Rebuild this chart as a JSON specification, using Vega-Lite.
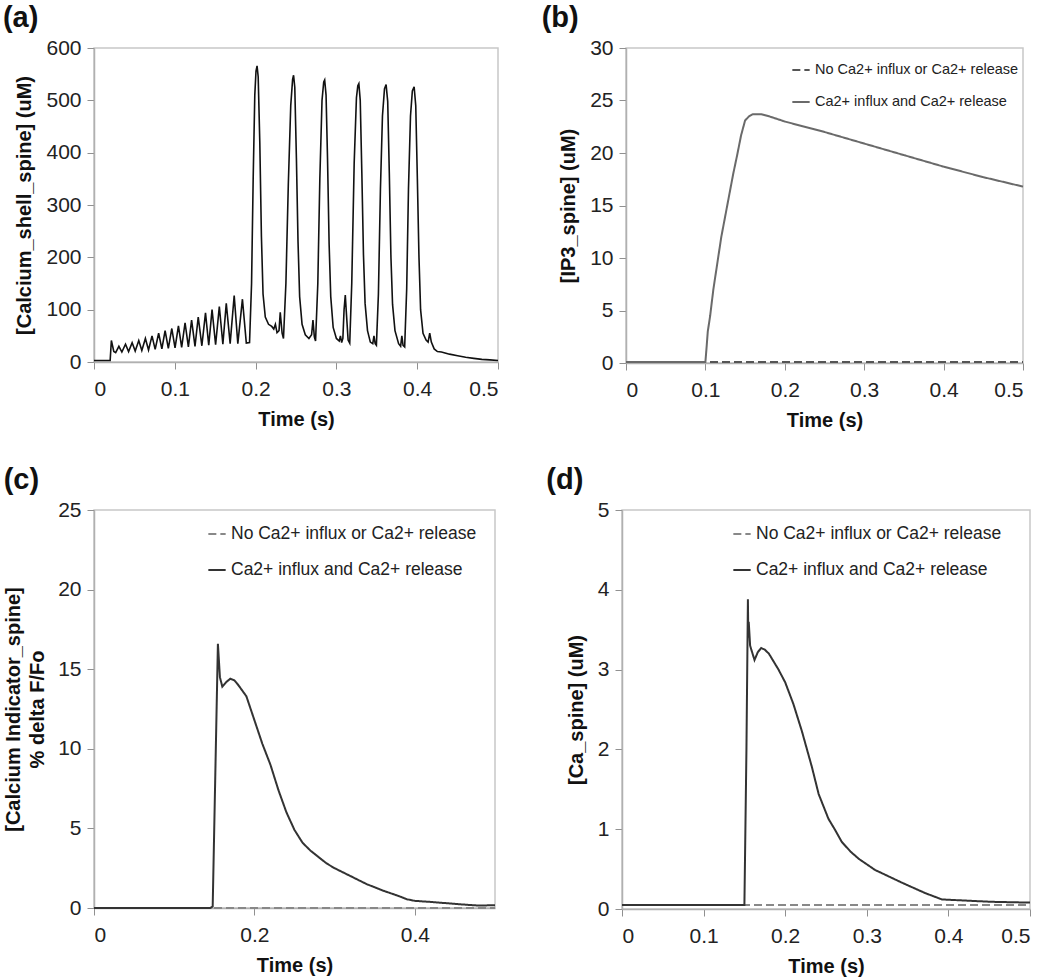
{
  "$schema": "https://vega.github.io/schema/vega-lite/v6.json",
  "background": "white",
  "padding": {"left": 2, "top": 3, "right": 2, "bottom": 0},
  "config": {
    "font": "Liberation Sans",
    "view": {"stroke": "#c8c8c8", "strokeWidth": 1.5},
    "axis": {"grid": false, "domainColor": "#b0b0b0", "domainWidth": 1.5, "tickColor": "#909090", "tickSize": 7, "labelFontSize": 21, "labelColor": "#222", "labelFont": "Liberation Sans", "titleFontSize": 20, "titleFontWeight": "bold", "titleColor": "#111"},
    "axisX": {"labelPadding": 9, "titlePadding": 10},
    "axisY": {"labelPadding": 6, "titlePadding": 11, "titleLineHeight": 24},
    "title": {"anchor": "start", "frame": "bounds", "fontSize": 29, "fontWeight": "bold", "color": "#111", "font": "Liberation Sans", "offset": 4},
    "legend": {"orient": "none", "title": null, "padding": 0, "symbolType": "stroke", "symbolSize": 300, "symbolStrokeWidth": 2, "labelFont": "Liberation Sans", "labelColor": "#222", "labelOffset": 4, "labelLimit": 400}
  },
  "datasets": {
    "a": [
      {"t":0,"v":3},{"t":0.02,"v":3},{"t":0.0215,"v":41},{"t":0.0245,"v":20},{"t":0.0268,"v":18},{"t":0.0308,"v":30},{"t":0.0345,"v":19},{"t":0.039,"v":34},{"t":0.0428,"v":20},{"t":0.0472,"v":37},{"t":0.051,"v":21},{"t":0.0554,"v":41},{"t":0.0592,"v":22},{"t":0.0636,"v":45},{"t":0.0675,"v":23},{"t":0.0718,"v":50},{"t":0.0757,"v":24},{"t":0.080,"v":55},{"t":0.084,"v":25},{"t":0.088,"v":60},{"t":0.092,"v":26},{"t":0.0963,"v":64},{"t":0.1003,"v":27},{"t":0.1045,"v":69},{"t":0.1085,"v":28},{"t":0.1127,"v":75},{"t":0.1168,"v":29},{"t":0.1208,"v":80},{"t":0.125,"v":30},{"t":0.129,"v":86},{"t":0.1335,"v":31},{"t":0.138,"v":94},{"t":0.142,"v":32},{"t":0.1461,"v":100},{"t":0.1505,"v":33},{"t":0.1551,"v":106},{"t":0.1595,"v":34},{"t":0.1637,"v":112},{"t":0.1685,"v":35},{"t":0.1735,"v":127},{"t":0.178,"v":35},{"t":0.1837,"v":120},{"t":0.1885,"v":36},{"t":0.1925,"v":37},
      {"t":0.195,"v":150},{"t":0.197,"v":350},{"t":0.199,"v":510},{"t":0.2005,"v":556},{"t":0.2018,"v":566},{"t":0.2032,"v":545},{"t":0.2052,"v":420},{"t":0.2072,"v":240},{"t":0.2092,"v":130},{"t":0.212,"v":86},{"t":0.216,"v":72},{"t":0.22,"v":68},{"t":0.2225,"v":63},{"t":0.2245,"v":72},{"t":0.2265,"v":56},{"t":0.229,"v":60},{"t":0.2305,"v":95},{"t":0.2328,"v":55},{"t":0.2345,"v":45},
      {"t":0.2375,"v":150},{"t":0.2405,"v":340},{"t":0.2435,"v":490},{"t":0.2458,"v":540},{"t":0.247,"v":548},{"t":0.2485,"v":525},{"t":0.2505,"v":390},{"t":0.2525,"v":230},{"t":0.2545,"v":125},{"t":0.2575,"v":72},{"t":0.2615,"v":52},{"t":0.266,"v":45},{"t":0.2693,"v":52},{"t":0.271,"v":80},{"t":0.2727,"v":48},{"t":0.2742,"v":40},
      {"t":0.277,"v":150},{"t":0.2795,"v":350},{"t":0.2822,"v":500},{"t":0.2843,"v":535},{"t":0.2855,"v":539},{"t":0.2872,"v":510},{"t":0.289,"v":390},{"t":0.291,"v":225},{"t":0.293,"v":125},{"t":0.296,"v":66},{"t":0.300,"v":45},{"t":0.3035,"v":40},{"t":0.305,"v":50},{"t":0.3065,"v":37},{"t":0.308,"v":45},{"t":0.3095,"v":100},{"t":0.311,"v":128},{"t":0.3125,"v":90},{"t":0.3145,"v":42},{"t":0.3165,"v":36},
      {"t":0.319,"v":150},{"t":0.322,"v":380},{"t":0.3248,"v":505},{"t":0.3265,"v":528},{"t":0.3278,"v":532},{"t":0.3295,"v":500},{"t":0.3315,"v":360},{"t":0.3335,"v":205},{"t":0.3355,"v":112},{"t":0.3385,"v":60},{"t":0.342,"v":38},{"t":0.345,"v":35},{"t":0.3465,"v":50},{"t":0.348,"v":35},{"t":0.3495,"v":32},
      {"t":0.352,"v":130},{"t":0.3545,"v":330},{"t":0.357,"v":470},{"t":0.3595,"v":522},{"t":0.3615,"v":530},{"t":0.3635,"v":498},{"t":0.3655,"v":360},{"t":0.3675,"v":200},{"t":0.3695,"v":110},{"t":0.3725,"v":60},{"t":0.377,"v":35},{"t":0.3795,"v":30},{"t":0.381,"v":50},{"t":0.3825,"v":32},{"t":0.3845,"v":29},
      {"t":0.387,"v":140},{"t":0.3892,"v":330},{"t":0.3917,"v":470},{"t":0.394,"v":518},{"t":0.3962,"v":526},{"t":0.3982,"v":490},{"t":0.4002,"v":350},{"t":0.4022,"v":200},{"t":0.4042,"v":100},{"t":0.4072,"v":55},{"t":0.411,"v":42},{"t":0.4135,"v":38},{"t":0.4155,"v":55},{"t":0.4175,"v":38},{"t":0.421,"v":25},{"t":0.425,"v":20},{"t":0.43,"v":19},{"t":0.44,"v":15},{"t":0.45,"v":12},{"t":0.46,"v":9},{"t":0.47,"v":7},{"t":0.48,"v":5},{"t":0.49,"v":4},{"t":0.5,"v":3}
    ],
    "b": [
      {"s":"No Ca2+ influx or Ca2+ release","t":0,"v":0.1},{"s":"No Ca2+ influx or Ca2+ release","t":0.5,"v":0.1},
      {"s":"Ca2+ influx and Ca2+ release","t":0,"v":0.1},{"s":"Ca2+ influx and Ca2+ release","t":0.1,"v":0.1},{"s":"Ca2+ influx and Ca2+ release","t":0.1015,"v":1.5},{"s":"Ca2+ influx and Ca2+ release","t":0.103,"v":3},{"s":"Ca2+ influx and Ca2+ release","t":0.106,"v":4.5},{"s":"Ca2+ influx and Ca2+ release","t":0.11,"v":7},{"s":"Ca2+ influx and Ca2+ release","t":0.115,"v":9.5},{"s":"Ca2+ influx and Ca2+ release","t":0.12,"v":12},{"s":"Ca2+ influx and Ca2+ release","t":0.125,"v":14},{"s":"Ca2+ influx and Ca2+ release","t":0.13,"v":16},{"s":"Ca2+ influx and Ca2+ release","t":0.135,"v":18},{"s":"Ca2+ influx and Ca2+ release","t":0.14,"v":19.8},{"s":"Ca2+ influx and Ca2+ release","t":0.145,"v":21.7},{"s":"Ca2+ influx and Ca2+ release","t":0.15,"v":23.1},{"s":"Ca2+ influx and Ca2+ release","t":0.155,"v":23.5},{"s":"Ca2+ influx and Ca2+ release","t":0.16,"v":23.7},{"s":"Ca2+ influx and Ca2+ release","t":0.17,"v":23.7},{"s":"Ca2+ influx and Ca2+ release","t":0.18,"v":23.5},{"s":"Ca2+ influx and Ca2+ release","t":0.2,"v":23.0},{"s":"Ca2+ influx and Ca2+ release","t":0.25,"v":22.0},{"s":"Ca2+ influx and Ca2+ release","t":0.3,"v":20.9},{"s":"Ca2+ influx and Ca2+ release","t":0.35,"v":19.8},{"s":"Ca2+ influx and Ca2+ release","t":0.4,"v":18.7},{"s":"Ca2+ influx and Ca2+ release","t":0.45,"v":17.7},{"s":"Ca2+ influx and Ca2+ release","t":0.5,"v":16.8}
    ],
    "c": [
      {"s":"No Ca2+ influx or Ca2+ release","t":0,"v":0},{"s":"No Ca2+ influx or Ca2+ release","t":0.5,"v":0},
      {"s":"Ca2+ influx and Ca2+ release","t":0,"v":0},{"s":"Ca2+ influx and Ca2+ release","t":0.145,"v":0},{"s":"Ca2+ influx and Ca2+ release","t":0.148,"v":0.1},{"s":"Ca2+ influx and Ca2+ release","t":0.1515,"v":9},{"s":"Ca2+ influx and Ca2+ release","t":0.1545,"v":16.6},{"s":"Ca2+ influx and Ca2+ release","t":0.157,"v":14.5},{"s":"Ca2+ influx and Ca2+ release","t":0.16,"v":13.9},{"s":"Ca2+ influx and Ca2+ release","t":0.165,"v":14.2},{"s":"Ca2+ influx and Ca2+ release","t":0.17,"v":14.4},{"s":"Ca2+ influx and Ca2+ release","t":0.175,"v":14.3},{"s":"Ca2+ influx and Ca2+ release","t":0.18,"v":14.0},{"s":"Ca2+ influx and Ca2+ release","t":0.19,"v":13.3},{"s":"Ca2+ influx and Ca2+ release","t":0.2,"v":11.8},{"s":"Ca2+ influx and Ca2+ release","t":0.21,"v":10.3},{"s":"Ca2+ influx and Ca2+ release","t":0.22,"v":9.0},{"s":"Ca2+ influx and Ca2+ release","t":0.23,"v":7.4},{"s":"Ca2+ influx and Ca2+ release","t":0.24,"v":6.0},{"s":"Ca2+ influx and Ca2+ release","t":0.25,"v":4.9},{"s":"Ca2+ influx and Ca2+ release","t":0.26,"v":4.1},{"s":"Ca2+ influx and Ca2+ release","t":0.27,"v":3.6},{"s":"Ca2+ influx and Ca2+ release","t":0.28,"v":3.2},{"s":"Ca2+ influx and Ca2+ release","t":0.29,"v":2.8},{"s":"Ca2+ influx and Ca2+ release","t":0.3,"v":2.5},{"s":"Ca2+ influx and Ca2+ release","t":0.32,"v":2.0},{"s":"Ca2+ influx and Ca2+ release","t":0.34,"v":1.5},{"s":"Ca2+ influx and Ca2+ release","t":0.36,"v":1.1},{"s":"Ca2+ influx and Ca2+ release","t":0.38,"v":0.75},{"s":"Ca2+ influx and Ca2+ release","t":0.39,"v":0.55},{"s":"Ca2+ influx and Ca2+ release","t":0.4,"v":0.45},{"s":"Ca2+ influx and Ca2+ release","t":0.42,"v":0.38},{"s":"Ca2+ influx and Ca2+ release","t":0.44,"v":0.3},{"s":"Ca2+ influx and Ca2+ release","t":0.46,"v":0.22},{"s":"Ca2+ influx and Ca2+ release","t":0.48,"v":0.15},{"s":"Ca2+ influx and Ca2+ release","t":0.5,"v":0.18}
    ],
    "d": [
      {"s":"No Ca2+ influx or Ca2+ release","t":0,"v":0.05},{"s":"No Ca2+ influx or Ca2+ release","t":0.5,"v":0.05},
      {"s":"Ca2+ influx and Ca2+ release","t":0,"v":0.05},{"s":"Ca2+ influx and Ca2+ release","t":0.15,"v":0.05},{"s":"Ca2+ influx and Ca2+ release","t":0.1525,"v":2.0},{"s":"Ca2+ influx and Ca2+ release","t":0.1543,"v":3.88},{"s":"Ca2+ influx and Ca2+ release","t":0.1548,"v":3.4},{"s":"Ca2+ influx and Ca2+ release","t":0.1553,"v":3.6},{"s":"Ca2+ influx and Ca2+ release","t":0.157,"v":3.3},{"s":"Ca2+ influx and Ca2+ release","t":0.1624,"v":3.12},{"s":"Ca2+ influx and Ca2+ release","t":0.1665,"v":3.22},{"s":"Ca2+ influx and Ca2+ release","t":0.1706,"v":3.27},{"s":"Ca2+ influx and Ca2+ release","t":0.175,"v":3.25},{"s":"Ca2+ influx and Ca2+ release","t":0.18,"v":3.2},{"s":"Ca2+ influx and Ca2+ release","t":0.1918,"v":3.0},{"s":"Ca2+ influx and Ca2+ release","t":0.2,"v":2.84},{"s":"Ca2+ influx and Ca2+ release","t":0.21,"v":2.57},{"s":"Ca2+ influx and Ca2+ release","t":0.2204,"v":2.23},{"s":"Ca2+ influx and Ca2+ release","t":0.2327,"v":1.78},{"s":"Ca2+ influx and Ca2+ release","t":0.241,"v":1.44},{"s":"Ca2+ influx and Ca2+ release","t":0.253,"v":1.13},{"s":"Ca2+ influx and Ca2+ release","t":0.2612,"v":0.99},{"s":"Ca2+ influx and Ca2+ release","t":0.2694,"v":0.84},{"s":"Ca2+ influx and Ca2+ release","t":0.28,"v":0.72},{"s":"Ca2+ influx and Ca2+ release","t":0.29,"v":0.63},{"s":"Ca2+ influx and Ca2+ release","t":0.31,"v":0.49},{"s":"Ca2+ influx and Ca2+ release","t":0.343,"v":0.33},{"s":"Ca2+ influx and Ca2+ release","t":0.3714,"v":0.2},{"s":"Ca2+ influx and Ca2+ release","t":0.392,"v":0.12},{"s":"Ca2+ influx and Ca2+ release","t":0.412,"v":0.11},{"s":"Ca2+ influx and Ca2+ release","t":0.453,"v":0.09},{"s":"Ca2+ influx and Ca2+ release","t":0.5,"v":0.08}
    ]
  },
  "spacing": 34,
  "vconcat": [
    {
      "spacing": 38,
      "resolve": {"scale": {"x": "independent", "y": "independent", "color": "independent", "strokeDash": "independent"}, "legend": {"color": "independent", "strokeDash": "independent"}},
      "hconcat": [
        {
          "title": {"text": "(a)", "dx": -12},
          "width": 404, "height": 314,
          "data": {"name": "a"},
          "mark": {"type": "line", "color": "#111", "strokeWidth": 1.6},
          "encoding": {
            "x": {"field": "t", "type": "quantitative", "scale": {"domain": [0, 0.5], "nice": false}, "axis": {"values": [0, 0.1, 0.2, 0.3, 0.4, 0.5], "format": "~g", "title": "Time (s)"}},
            "y": {"field": "v", "type": "quantitative", "scale": {"domain": [0, 600], "nice": false}, "axis": {"values": [0, 100, 200, 300, 400, 500, 600], "title": "[Calcium_shell_spine] (uM)"}}
          }
        },
        {
          "title": {"text": "(b)", "dx": -17},
          "width": 397, "height": 315,
          "data": {"name": "b"},
          "mark": {"type": "line", "strokeWidth": 2},
          "encoding": {
            "x": {"field": "t", "type": "quantitative", "scale": {"domain": [0, 0.5], "nice": false}, "axis": {"values": [0, 0.1, 0.2, 0.3, 0.4, 0.5], "format": "~g", "title": "Time (s)"}},
            "y": {"field": "v", "type": "quantitative", "scale": {"domain": [0, 30], "nice": false}, "axis": {"values": [0, 5, 10, 15, 20, 25, 30], "title": "[IP3_spine] (uM)"}},
            "strokeDash": {"field": "s", "type": "nominal", "scale": {"domain": ["No Ca2+ influx or Ca2+ release", "Ca2+ influx and Ca2+ release"], "range": [[8, 4], [1, 0]]}, "legend": {"legendX": 165, "legendY": 12, "labelFontSize": 14.5, "rowPadding": 15}},
            "color": {"field": "s", "type": "nominal", "scale": {"domain": ["No Ca2+ influx or Ca2+ release", "Ca2+ influx and Ca2+ release"], "range": ["#555555", "#6a6a6a"]}, "legend": {"legendX": 165, "legendY": 12, "labelFontSize": 14.5, "rowPadding": 15}}
          }
        }
      ]
    },
    {
      "spacing": 45,
      "resolve": {"scale": {"x": "independent", "y": "independent", "color": "independent", "strokeDash": "independent"}, "legend": {"color": "independent", "strokeDash": "independent"}},
      "hconcat": [
        {
          "title": {"text": "(c)"},
          "width": 401, "height": 398,
          "data": {"name": "c"},
          "mark": {"type": "line", "strokeWidth": 2},
          "encoding": {
            "x": {"field": "t", "type": "quantitative", "scale": {"domain": [0, 0.5], "nice": false}, "axis": {"values": [0, 0.2, 0.4], "format": "~g", "title": "Time (s)"}},
            "y": {"field": "v", "type": "quantitative", "scale": {"domain": [0, 25], "nice": false}, "axis": {"values": [0, 5, 10, 15, 20, 25], "title": ["[Calcium Indicator_spine]", "% delta F/Fo"], "titlePadding": 10}},
            "strokeDash": {"field": "s", "type": "nominal", "scale": {"domain": ["No Ca2+ influx or Ca2+ release", "Ca2+ influx and Ca2+ release"], "range": [[8, 4], [1, 0]]}, "legend": {"legendX": 113, "legendY": 14, "labelFontSize": 17.5, "rowPadding": 17}},
            "color": {"field": "s", "type": "nominal", "scale": {"domain": ["No Ca2+ influx or Ca2+ release", "Ca2+ influx and Ca2+ release"], "range": ["#888888", "#333333"]}, "legend": {"legendX": 113, "legendY": 14, "labelFontSize": 17.5, "rowPadding": 17}}
          }
        },
        {
          "title": {"text": "(d)", "dx": -20},
          "width": 408, "height": 399,
          "data": {"name": "d"},
          "mark": {"type": "line", "strokeWidth": 2},
          "encoding": {
            "x": {"field": "t", "type": "quantitative", "scale": {"domain": [0, 0.5], "nice": false}, "axis": {"values": [0, 0.1, 0.2, 0.3, 0.4, 0.5], "format": "~g", "title": "Time (s)"}},
            "y": {"field": "v", "type": "quantitative", "scale": {"domain": [0, 5], "nice": false}, "axis": {"values": [0, 1, 2, 3, 4, 5], "title": "[Ca_spine] (uM)"}},
            "strokeDash": {"field": "s", "type": "nominal", "scale": {"domain": ["No Ca2+ influx or Ca2+ release", "Ca2+ influx and Ca2+ release"], "range": [[8, 4], [1, 0]]}, "legend": {"legendX": 110, "legendY": 14, "labelFontSize": 17.5, "rowPadding": 17}},
            "color": {"field": "s", "type": "nominal", "scale": {"domain": ["No Ca2+ influx or Ca2+ release", "Ca2+ influx and Ca2+ release"], "range": ["#888888", "#333333"]}, "legend": {"legendX": 110, "legendY": 14, "labelFontSize": 17.5, "rowPadding": 17}}
          }
        }
      ]
    }
  ],
  "resolve": {"scale": {"x": "independent", "y": "independent", "color": "independent", "strokeDash": "independent"}, "legend": {"color": "independent", "strokeDash": "independent"}}
}
